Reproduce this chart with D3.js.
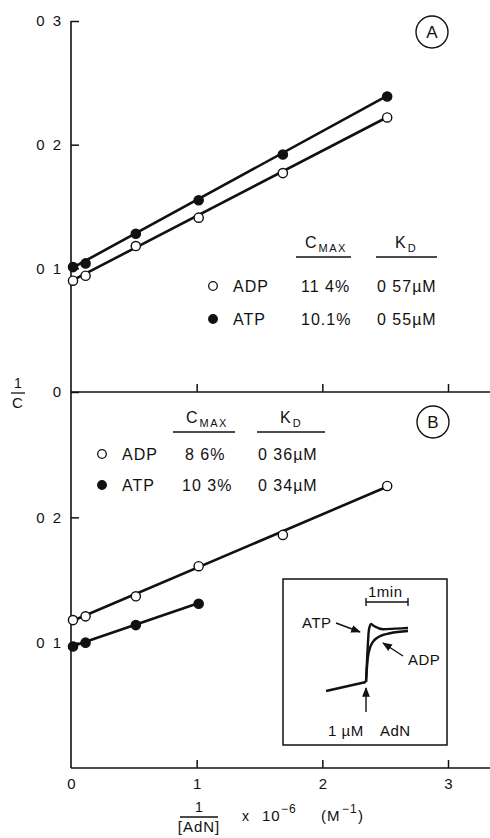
<!DOCTYPE html>
<html>
<head>
<meta charset="utf-8">
<script src="https://cdn.jsdelivr.net/npm/d3@7"></script>
<style>
  body { margin: 0; background: #fff; }
  svg text { font-family: "Liberation Sans", "DejaVu Sans", sans-serif; fill: #111; }
</style>
</head>
<body>
<div id="chart"></div>
<script>
// 1/[AdN] x 10^-6 (M^-1)
const xA = [0, 0.1, 0.5, 1, 1.67, 2.5];
const adpA = [0.090, 0.094, 0.118, 0.141, 0.177, 0.222];
const atpA = [0.101, 0.104, 0.128, 0.155, 0.192, 0.239];

const xB_adp = [0, 0.1, 0.5, 1, 1.67, 2.5];
const adpB = [0.118, 0.121, 0.137, 0.161, 0.186, 0.225];
const xB_atp = [0, 0.1, 0.5, 1];
const atpB = [0.097, 0.100, 0.114, 0.131];

const yTicks = [0.1, 0.2, 0.3];
const xTicks = [0, 1, 2, 3];

const legendA = [
    {name: "ADP", filled: false, cmax: "11 4%", kd: "0 57\u00b5M"},
    {name: "ATP", filled: true, cmax: "10.1%", kd: "0 55\u00b5M"}
];
const legendB = [
    {name: "ADP", filled: false, cmax: "8 6%", kd: "0 36\u00b5M"},
    {name: "ATP", filled: true, cmax: "10 3%", kd: "0 34\u00b5M"}
];

// inset trace: time (min) vs signal (arbitrary)
const traceBaseT = [-0.95, 0];
const traceBaseS = [-0.155, 0];
const traceAtpT = [0, 0.03, 0.07, 0.12, 0.2, 0.4, 0.7, 1.0];
const traceAtpS = [0, 0.45, 0.9, 1.0, 0.96, 0.91, 0.92, 0.93];
const traceAdpT = [0, 0.04, 0.1, 0.26, 0.57, 1.0];
const traceAdpS = [0, 0.4, 0.6, 0.76, 0.84, 0.88];

const W = 490, H = 838;
const svg = d3.select("#chart").append("svg")
    .attr("width", W).attr("height", H);

const x = d3.scaleLinear().domain([0, 3]).range([71, 448]);
const yA = d3.scaleLinear().domain([0, 0.3]).range([392, 21]);
const yB = d3.scaleLinear().domain([0, 0.3]).range([768, 392]);

function fmtY(d) {
    return d === 0 ? "0" : "0 " + Math.round(d * 10);
}

// vertical axis line shared by both panels
svg.append("line")
    .attr("x1", x(0)).attr("x2", x(0))
    .attr("y1", yA(0.3)).attr("y2", yB(0))
    .attr("stroke", "#111").attr("stroke-width", 1.6);

function drawAxes(y, showXLabels, yVals) {
    const gy = svg.append("g")
        .attr("transform", `translate(${x(0)},0)`)
        .call(d3.axisLeft(y).tickValues(yVals).tickSize(-8).tickPadding(8).tickFormat(fmtY));
    gy.select(".domain").remove();
    gy.selectAll(".tick line").attr("stroke", "#111").attr("stroke-width", 1.5);
    gy.selectAll(".tick text").attr("font-size", 15).style("letter-spacing", "2px");

    svg.append("line")
        .attr("x1", x(0)).attr("x2", W)
        .attr("y1", y(0)).attr("y2", y(0))
        .attr("stroke", "#111").attr("stroke-width", 1.6);

    const gx = svg.append("g")
        .attr("transform", `translate(0,${y(0)})`)
        .call(d3.axisBottom(x).tickValues(showXLabels ? xTicks : xTicks.slice(1))
            .tickSize(-8).tickPadding(10)
            .tickFormat(showXLabels ? d3.format("d") : () => ""));
    gx.select(".domain").remove();
    gx.selectAll(".tick line").attr("stroke", "#111").attr("stroke-width", 1.5)
        .attr("opacity", d => d === 0 ? 0 : 1);
    gx.selectAll(".tick text").attr("font-size", 15);
}

drawAxes(yA, false, [0, 0.1, 0.2, 0.3]);
drawAxes(yB, true, [0.1, 0.2]);

function fitLine(xs, ys, y) {
    const mx = d3.mean(xs), my = d3.mean(ys);
    const b = d3.sum(xs, (v, i) => (v - mx) * (ys[i] - my)) / d3.sum(xs, v => (v - mx) * (v - mx));
    const a = my - b * mx;
    const ends = d3.extent(xs);
    svg.append("line")
        .attr("x1", x(ends[0])).attr("y1", y(a + b * ends[0]))
        .attr("x2", x(ends[1])).attr("y2", y(a + b * ends[1]))
        .attr("stroke", "#111").attr("stroke-width", 2.6);
}

function drawPoints(xs, ys, y, filled) {
    svg.append("g").selectAll("circle")
        .data(xs.map((v, i) => [v, ys[i]]))
        .join("circle")
        .attr("cx", d => x(d[0]) + 2)
        .attr("cy", d => y(d[1]))
        .attr("r", 4.6)
        .attr("fill", filled ? "#111" : "#fff")
        .attr("stroke", "#111").attr("stroke-width", 1.4);
}

fitLine(xA, adpA, yA);
fitLine(xA, atpA, yA);
drawPoints(xA, adpA, yA, false);
drawPoints(xA, atpA, yA, true);

fitLine(xB_adp, adpB, yB);
fitLine(xB_atp, atpB, yB);
drawPoints(xB_adp, adpB, yB, false);
drawPoints(xB_atp, atpB, yB, true);

// circled panel letters
function panelLetter(cx, cy, t) {
    svg.append("circle").attr("cx", cx).attr("cy", cy).attr("r", 16)
        .attr("fill", "none").attr("stroke", "#111").attr("stroke-width", 1.4);
    svg.append("text").attr("x", cx).attr("y", cy + 6)
        .attr("text-anchor", "middle").attr("font-size", 17).text(t);
}
panelLetter(432, 32, "A");
panelLetter(433, 422, "B");

function subLabel(xp, yb, main, sub) {
    const t = svg.append("text").attr("x", xp).attr("y", yb).attr("font-size", 16);
    t.append("tspan").text(main);
    t.append("tspan").attr("dy", 4).attr("dx", 2).attr("font-size", 11)
        .style("letter-spacing", "1.5px").text(sub);
}

function drawLegend(rows, o) {
    subLabel(o.cX, o.headY, "C", "MAX");
    subLabel(o.kX, o.headY, "K", "D");
    svg.append("line").attr("x1", o.cU[0]).attr("x2", o.cU[1])
        .attr("y1", o.headY + 9).attr("y2", o.headY + 9)
        .attr("stroke", "#111").attr("stroke-width", 1.4);
    svg.append("line").attr("x1", o.kU[0]).attr("x2", o.kU[1])
        .attr("y1", o.headY + 9).attr("y2", o.headY + 9)
        .attr("stroke", "#111").attr("stroke-width", 1.4);
    rows.forEach((r, i) => {
        const cy = o.rowY + i * o.gap;
        svg.append("circle").attr("cx", o.mX).attr("cy", cy).attr("r", 4.3)
            .attr("fill", r.filled ? "#111" : "#fff")
            .attr("stroke", "#111").attr("stroke-width", 1.3);
        const cols = [[o.nX, r.name], [o.vX[i], r.cmax], [o.kdX, r.kd]];
        cols.forEach(c => {
            svg.append("text").attr("x", c[0]).attr("y", cy + 6)
                .attr("font-size", 16).style("letter-spacing", "1px")
                .text(c[1]);
        });
    });
}

drawLegend(legendA, {
    cX: 305, kX: 395, headY: 248, cU: [296, 351], kU: [376, 437],
    rowY: 286, gap: 33, mX: 213, nX: 233, vX: [301, 301], kdX: 377
});
drawLegend(legendB, {
    cX: 186, kX: 280, headY: 423, cU: [173, 235], kU: [257, 325],
    rowY: 454, gap: 31, mX: 102, nX: 122, vX: [185, 182], kdX: 258
});

// axis titles
function fraction(cx, topY, num, den, halfW) {
    svg.append("text").attr("x", cx).attr("y", topY).attr("text-anchor", "middle")
        .attr("font-size", 14).text(num);
    svg.append("line").attr("x1", cx - halfW).attr("x2", cx + halfW)
        .attr("y1", topY + 5).attr("y2", topY + 5)
        .attr("stroke", "#111").attr("stroke-width", 1.3);
    svg.append("text").attr("x", cx).attr("y", topY + 20).attr("text-anchor", "middle")
        .attr("font-size", 15).style("letter-spacing", "1px").text(den);
}
fraction(18, 388, "1", "C", 7);
fraction(199, 812, "1", "[AdN]", 19);

// x  10^-6  (M^-1)
function xPart(xp, yb, s, size) {
    svg.append("text").attr("x", xp).attr("y", yb).attr("font-size", size)
        .style("letter-spacing", "1px").text(s);
}
xPart(242, 821, "x", 14);
xPart(262, 821, "10", 15);
xPart(281, 813, "\u22126", 12);
xPart(321, 821, "(M", 15);
xPart(342, 813, "\u22121", 12);
xPart(358, 821, ")", 15);

// inset
svg.append("rect").attr("x", 283).attr("y", 579).attr("width", 164).attr("height", 166)
    .attr("fill", "#fff").attr("stroke", "#111").attr("stroke-width", 1.5);

const tx = d3.scaleLinear().domain([0, 1]).range([366, 408]);
const ty = d3.scaleLinear().domain([0, 1]).range([682, 624]);
const traceLine = d3.line().x(d => tx(d[0])).y(d => ty(d[1])).curve(d3.curveMonotoneX);
[[traceBaseT, traceBaseS], [traceAtpT, traceAtpS], [traceAdpT, traceAdpS]].forEach(p => {
    svg.append("path")
        .attr("d", traceLine(p[0].map((v, i) => [v, p[1][i]])))
        .attr("fill", "none").attr("stroke", "#111").attr("stroke-width", 2.4);
});

svg.append("defs").append("marker")
    .attr("id", "arr").attr("viewBox", "0 0 10 10").attr("refX", 9).attr("refY", 5)
    .attr("markerWidth", 7).attr("markerHeight", 7).attr("orient", "auto")
    .append("path").attr("d", "M0,1L10,5L0,9z").attr("fill", "#111");

function arrow(x1, y1, x2, y2) {
    svg.append("line").attr("x1", x1).attr("y1", y1).attr("x2", x2).attr("y2", y2)
        .attr("stroke", "#111").attr("stroke-width", 1.4).attr("marker-end", "url(#arr)");
}
arrow(336, 623, 360, 632);
arrow(403, 656, 383, 643);
arrow(366, 712, 366, 688);

// 1 min bar
svg.append("line").attr("x1", tx(0)).attr("x2", tx(1)).attr("y1", 602).attr("y2", 602)
    .attr("stroke", "#111").attr("stroke-width", 1.4);
[0, 1].forEach(t => svg.append("line").attr("x1", tx(t)).attr("x2", tx(t))
    .attr("y1", 598).attr("y2", 606).attr("stroke", "#111").attr("stroke-width", 1.4));

function insetText(xp, yb, s) {
    svg.append("text").attr("x", xp).attr("y", yb).attr("font-size", 15)
        .style("letter-spacing", "0.5px").text(s);
}
insetText(368, 597, "1min");
insetText(302, 628, "ATP");
insetText(408, 665, "ADP");
insetText(328, 736, "1 \u00b5M");
insetText(380, 736, "AdN");
</script>
</body>
</html>
